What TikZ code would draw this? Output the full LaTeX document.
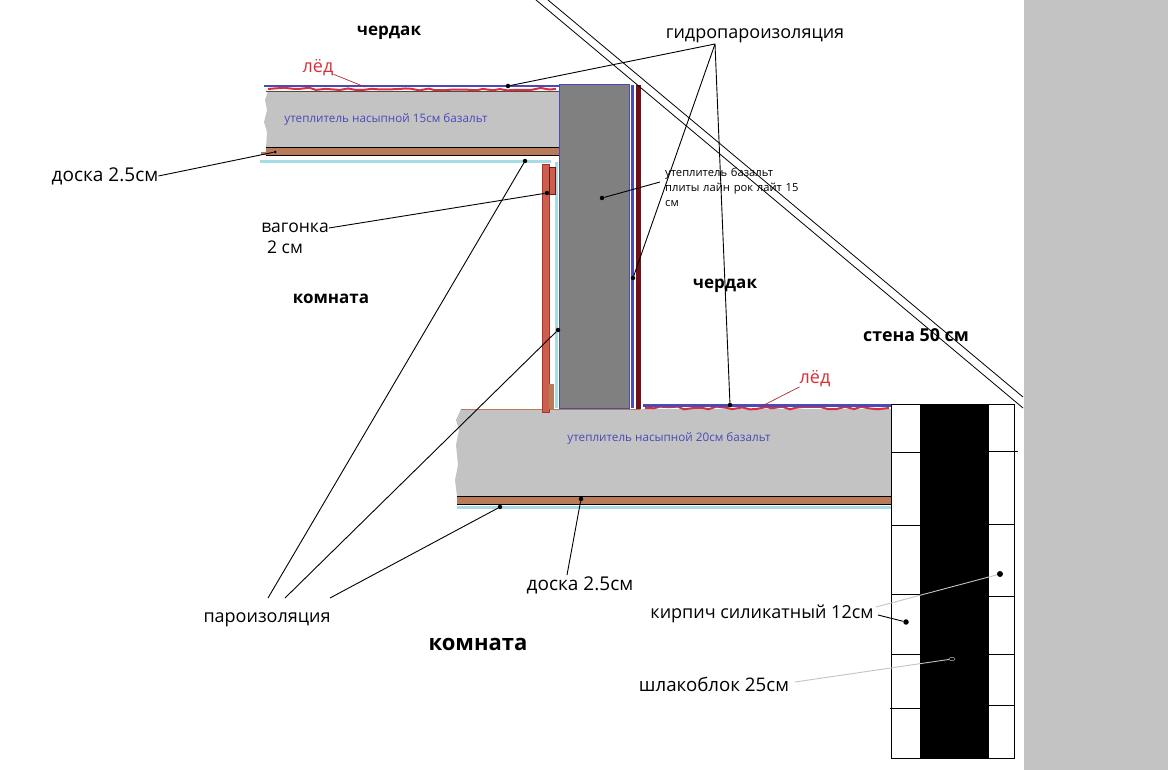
\documentclass[tikz,border=0pt]{standalone}
\usepackage{fontspec}
\setmainfont{Open Sans}
\usetikzlibrary{decorations.pathmorphing,shapes.geometric}
\definecolor{insulgray}{HTML}{C3C3C3}
\definecolor{wallgray}{HTML}{808080}
\definecolor{boardbrown}{HTML}{B97A57}
\definecolor{membraneblue}{HTML}{4A4AB8}
\definecolor{vaporblue}{HTML}{A6DCE6}
\definecolor{icered}{HTML}{D8303A}
\definecolor{panelred}{HTML}{C8604C}
\definecolor{darkred}{HTML}{70101A}
\tikzset{
  lbl/.style={inner sep=0pt,font=\fontsize{18}{20}\selectfont},
  roomlbl/.style={inner sep=0pt,font=\fontsize{17}{20}\selectfont\bfseries},
  bluelbl/.style={inner sep=0pt,text=membraneblue,font=\fontsize{11.7}{13}\selectfont},
  icelbl/.style={inner sep=0pt,text=icered,font=\fontsize{18}{20}\selectfont},
  dot/.style={circle,fill=black,inner sep=0pt,minimum size=4.5pt},
  leader/.style={draw=black,line width=.9pt},
  iceline/.style={draw=icered,line width=2pt,decorate,
    decoration={random steps,segment length=8pt,amplitude=1.4pt}},
}
\begin{document}
\begin{tikzpicture}[x=1pt,y=-1pt]
  \useasboundingbox (0,0) rectangle (1168,770);
  % right panel
  \fill[insulgray] (1024,0) rectangle (1168,770);
  % upper floor
  \fill[insulgray] (268,91) -- (559,91) -- (559,148) -- (266,148) -- (267,132)
    -- (264,122) -- (267,110) -- (265,100) -- cycle;
  \fill[boardbrown] (266,148) rectangle (559,155);
  \fill[boardbrown] (261,152) rectangle (266,155);
  \draw[line width=.9pt] (266,147.5) -- (559,147.5) (266,155.5) -- (559,155.5);
  \fill[vaporblue] (260,160.5) rectangle (551,163.5);
  \draw[line width=.8pt,black!70] (266,91) -- (559,91);
  \fill[white] (266,87) rectangle (558,90.5);
  \draw[iceline] (268,89) -- (556,89);
  \draw[membraneblue,line width=2.2pt] (264,86) -- (559,86);
  % wall with layers
  \fill[vaporblue] (555,162) rectangle (557.5,408);
  \draw[membraneblue,fill=wallgray,line width=1pt] (559,85) rectangle (629,408);
  \fill[membraneblue] (631,85) rectangle (634,408);
  \fill[darkred] (636,85) rectangle (640.5,409);
  % lower floor
  \fill[insulgray] (461,409) -- (891,409) -- (891,496) -- (457,496) -- (455,480)
    -- (458,465) -- (456,445) -- (459,430) -- (456,420) -- cycle;
  \draw[boardbrown,line width=.8pt] (461,409) -- (640,409);
  \fill[boardbrown] (457,497) rectangle (891,504);
  \draw[line width=.9pt] (457,496.5) -- (891,496.5) (457,504.5) -- (891,504.5);
  \fill[vaporblue] (457,506) rectangle (891,509);
  \draw[iceline] (645,408) -- (889,408);
  \draw[membraneblue,line width=2.4pt] (643,405.5) -- (891,405.5);
  % lining
  \draw[icered!85!black,fill=panelred,line width=.7pt] (542.5,164.5) rectangle (549,412);
  \draw[darkred,fill=panelred,line width=.7pt] (549.5,167.5) rectangle (555,194.5);
  \fill[boardbrown] (549,384) rectangle (554,409);
  % brick wall
  \fill[black] (920,404) rectangle (988.5,758);
  \draw[line width=.9pt] (891.5,404.5) rectangle (1014.5,758.5);
  \foreach \y in {452,525,594,654} {
    \draw[line width=.8pt] (891.5,\y) -- (920,\y);
  }
  \draw[line width=.8pt] (890,708) -- (920,708);
  \draw[line width=.8pt] (988,451) -- (1018,451);
  \foreach \y in {524,596,654,705} {
    \draw[line width=.8pt] (988,\y) -- (1014.5,\y);
  }
  % roof
  \coordinate (roofa1) at (536,0);
  \coordinate (roofa2) at (1023,408);
  \coordinate (roofb1) at (548,0);
  \coordinate (roofb2) at (1023,397);
  \draw[line width=.8pt] (roofa1) -- (roofa2);
  \draw[line width=.8pt] (roofb1) -- (roofb2);
  % labels
  \node[roomlbl] (attic1) at (389,33) {чердак};
  \node[roomlbl] (attic2) at (725,286) {чердак};
  \node[roomlbl] (room1) at (331,299) {комната};
  \node[roomlbl,font=\fontsize{22}{24}\selectfont\bfseries] (room2) at (478,644) {комната};
  \node[roomlbl,font=\fontsize{17.8}{20}\selectfont\bfseries] (wallsize) at (916,335) {стена 50 см};
  \node[icelbl] (ice1) at (318,68) {лёд};
  \node[icelbl] (ice2) at (815,379) {лёд};
  \node[lbl] (hydro) at (755,36) {гидропароизоляция};
  \node[lbl,font=\fontsize{19}{20}\selectfont] (board1) at (105,176) {доска 2.5см};
  \node[lbl,font=\fontsize{17.5}{20}\selectfont] (lining1) at (295,228) {вагонка};
  \node[lbl,font=\fontsize{17.5}{20}\selectfont] (lining2) at (285,247) {2 см};
  \node[lbl] (vapor) at (267,620) {пароизоляция};
  \node[lbl,font=\fontsize{19}{20}\selectfont] (board2) at (580,585) {доска 2.5см};
  \node[lbl] (brick) at (762,614) {кирпич силикатный 12см};
  \node[lbl,font=\fontsize{18.7}{20}\selectfont] (block) at (714,684) {шлакоблок 25см};
  \node[bluelbl] (fill1) at (386,119) {утеплитель насыпной 15см базальт};
  \node[bluelbl] (fill2) at (669,438) {утеплитель насыпной 20см базальт};
  \node[inner sep=0pt,anchor=north west,align=left,text width=140pt,
    font=\fontsize{11.2}{15}\selectfont] (plate) at (665,168)
    {утеплитель базальт\\плиты лайн рок лайт 15\\см};
  % leader ends
  \node[dot] (dhydro1) at (508,86) {};
  \node[dot] (dhydro2) at (633,278) {};
  \node[dot] (dhydro3) at (730,405) {};
  \node[dot,minimum size=3pt] (dboard1) at (275,152) {};
  \node[dot] (dlining) at (547,193) {};
  \node[dot] (dplate) at (602,198) {};
  \node[dot] (dvapor1) at (525,161) {};
  \node[dot] (dvapor2) at (558,330) {};
  \node[dot] (dvapor3) at (500,507) {};
  \node[dot] (dboard2) at (581,499) {};
  \node[dot,minimum size=5.5pt] (dbrick1) at (906,622) {};
  \node[dot,minimum size=6pt] (dbrick2) at (1000,574) {};
  \node[draw=insulgray,ellipse,fill=black,inner sep=0pt,minimum width=6pt,minimum height=3.5pt] (dblock) at (952,659) {};
  % leaders
  \coordinate (hydrofoot) at (715,44);
  \coordinate (vaporfoota) at (268,598);
  \coordinate (vaporfootb) at (285,598);
  \coordinate (vaporfootc) at (330,598);
  \coordinate (platefoot) at (660,182);
  \coordinate (boardfoot) at (567,575);
  \coordinate (brickfoota) at (878,615);
  \coordinate (brickfootb) at (876,607);
  \coordinate (blockfoot) at (795,682);
  \draw[icered!80!black,line width=.7pt] (ice1) -- (365,87);
  \draw[icered!80!black,line width=.7pt] (ice2) -- (762,406);
  \draw[leader] (hydrofoot) -- (dhydro1);
  \draw[leader] (hydrofoot) -- (dhydro2);
  \draw[leader] (hydrofoot) -- (dhydro3);
  \draw[leader] (board1.east) -- (dboard1);
  \draw[leader] (lining1.east) -- (dlining);
  \draw[leader] (platefoot) -- (dplate);
  \draw[leader] (vaporfoota) -- (dvapor1);
  \draw[leader] (vaporfootb) -- (dvapor2);
  \draw[leader] (vaporfootc) -- (dvapor3);
  \draw[leader] (boardfoot) -- (dboard2);
  \draw[leader] (brickfoota) -- (dbrick1);
  \draw[insulgray,line width=.9pt] (brickfootb) -- (dbrick2);
  \draw[insulgray,line width=.9pt] (blockfoot) -- (dblock);
\end{tikzpicture}
\end{document}
